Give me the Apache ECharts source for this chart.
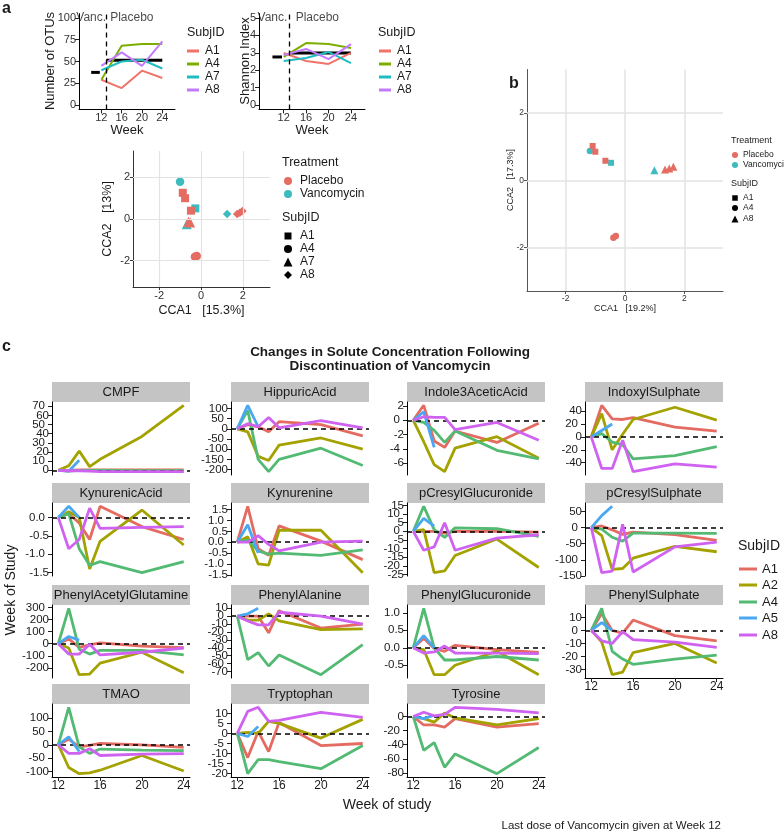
<!DOCTYPE html>
<html>
<head>
<meta charset="utf-8">
<script src="https://cdn.jsdelivr.net/npm/echarts@6/dist/echarts.min.js"></script>
<style>html,body{margin:0;padding:0;background:#fff;}#chart{width:784px;height:833px;}</style>
</head>
<body>
<div id="chart"></div>
<script>
// ================= DATA =================
// ---- panel a : alpha diversity ----
const weeksA = [12, 16, 20, 24];
const subjA = ['A1', 'A4', 'A7', 'A8'];
const otuA1 = [29, 19.5, 39.5, 31];
const otuA4 = [29, 68, 70, 70];
const otuA7 = [40, 50, 52, 42];
const otuA8 = [45, 60.5, 45, 73];
const otuMeans = [37.5, 51.5];          // Vanc., Placebo
const shanA1 = [2.99, 2.53, 2.36, 2.99];
const shanA4 = [2.76, 3.56, 3.5, 3.28];
const shanA7 = [2.53, 2.7, 3.05, 2.41];
const shanA8 = [2.87, 3.22, 2.64, 3.5];
const shanMeans = [2.76, 2.99];
const vancSpan = [10, 11.7];
const placeboSpan = [13, 24];
const switchWeek = 13;
const phaseLabels = ['Vanc.', 'Placebo'];
const phaseLabelWeeks = [10, 18];
const otuTicks = [0, 25, 50, 75, 100];
const shanTicks = [0, 1, 2, 3, 4, 5];
const weekTicksA = [12, 16, 20, 24];

// ---- panel a : CCA ----
const ccaTicks = [-2, 0, 2];
const ccaA_placebo = [[-0.87,1.26,'A1'],[-0.76,1.0,'A1'],[-0.48,0.4,'A1'],[-0.6,-0.13,'A7'],[-0.52,-0.17,'A7'],
                      [-0.29,-1.81,'A4'],[-0.2,-1.78,'A4'],[1.73,0.24,'A8'],[1.86,0.3,'A8'],[1.98,0.38,'A8']];
const ccaA_vanc = [[-1.0,1.79,'A4'],[-0.27,0.51,'A1'],[-0.68,-0.25,'A7'],[1.25,0.24,'A8']];
// ---- panel b : CCA ----
const ccaB_placebo = [[-1.09,1.02,'A1'],[-1.0,0.85,'A1'],[-0.66,0.58,'A1'],[-0.39,-1.71,'A4'],[-0.31,-1.66,'A4'],
                      [1.35,0.32,'A8'],[1.49,0.35,'A8'],[1.63,0.4,'A8']];
const ccaB_vanc = [[-1.18,0.87,'A4'],[-0.47,0.52,'A1'],[0.99,0.3,'A8']];

// ---- panel c : solute changes (rows: A1, A2, A4, A5, A8) ----
const weeksC = [12, 13, 14, 15, 16, 20, 24];
const subjC = ['A1', 'A2', 'A4', 'A5', 'A8'];
const weekTicksC = [12, 16, 20, 24];
const solutes = ['CMPF','HippuricAcid','Indole3AceticAcid','IndoxylSulphate','KynurenicAcid','Kynurenine',
  'pCresylGlucuronide','pCresylSulphate','PhenylAcetylGlutamine','PhenylAlanine','PhenylGlucuronide',
  'PhenylSulphate','TMAO','Tryptophan','Tyrosine'];

const CMPF = [[0,0,0.5,0.5,0.5,0.5,0.5],[0,5,21,4,12,37,71],[0,-1,0,0,0,-0.5,-0.5],[0,-1,11],[0,-0.5,-0.5,-1,-1.5,-1.5,-1.5]];
const HippuricAcid = [[0,20,10,-15,35,20,-35],[0,-15,-135,-155,-80,-45,-100],[0,90,-150,-210,-150,-95,-180],[0,115,10],[0,25,10,55,5,40,5]];
const Indole3AceticAcid = [[0,2.1,-2.9,-3.8,-1.5,-3.1,-0.4],[0,-3,-6.2,-7.2,-3.9,-2.3,-5.3],[0,-0.3,-1.4,-3.1,-1.5,-4.2,-5.4],[0,1.2,-3.8],[0,0.5,0.4,0.4,-1.3,-0.3,-2.8]];
const IndoxylSulphate = [[0,49,28,27,30,15,9],[0,36,-20,4,27,46,26],[0,5,-8,-12,-34,-29,-15],[0,10,20],[0,-49,-49,-5,-54,-42,-47]];
const KynurenicAcid = [[0,0.1,-0.15,-0.6,0.3,-0.25,-0.6],[0,0.15,0,-1.4,-0.65,0.2,-0.75],[0,0.1,-0.85,-1.3,-1.2,-1.5,-1.2],[0,0.3,0],[0,-0.85,-0.6,0.25,-0.3,-0.27,-0.25]];
const Kynurenine = [[0,1.65,-0.3,-0.6,0.75,0.05,-0.8],[0,0.25,-1.0,-1.05,0.55,0.55,-1.4],[0,0.1,-0.4,-0.55,-0.5,-0.6,-0.35],[0,0.8,-0.5],[0,0,0.3,-0.1,-0.4,0,0.05]];
const pCresylGlucuronide = [[0,0,0,-1,0,0,-0.5],[0,1,-24,-23,-14,-4.5,-21],[0,14.5,1,-3.5,2,1.5,-3],[0,7.5,3],[0,-11,-9,5,-11,-4,-2]];
const pCresylSulphate = [[0,5,-7,-21,-14,-22,-40],[0,-25,-130,-127,-95,-58,-75],[0,-5,-30,-42,-17,-17,-18],[0,37,66],[0,-140,-135,10,-138,-60,-45]];
const PhenylAcetylGlutamine = [[0,40,-30,-10,8,-20,-32],[0,-35,-255,-250,-160,-70,-240],[0,292,-45,-85,-55,-55,-92],[0,60,30],[0,-85,-85,-5,-92,-70,-35]];
const PhenylAlanine = [[0,0,0,-21,7,-15,-10],[0,-5,-5,3,-6,-17,-16],[0,-55,-46,-63,-49,-74,-36],[0,3,10],[0,-6,-11,-11,5,0,-10]];
const PhenylGlucuronide = [[0,0.27,-0.02,-0.1,0.07,-0.05,-0.13],[0,-0.05,-0.77,-0.77,-0.5,-0.1,-0.77],[0,1.13,0,-0.35,-0.35,-0.25,-0.35],[0,0.35,0],[0,-0.15,-0.12,0.05,-0.15,-0.15,-0.17]];
const PhenylSulphate = [[0,13,0,-2,8,-4,-8],[0,-9,-34,-32,-17,-10,-25],[0,17,-16,-22,-26,-22,-19],[0,6,0],[0,-8,-10,-1,-7,-9,-13]];
const TMAO = [[0,21,-8,-2,5,0,-10],[0,-85,-108,-105,-95,-40,-98],[0,140,-8,-32,-16,-20,-22],[0,30,-25],[0,-32,-32,-15,-40,-35,-33]];
const Tryptophan = [[0,-12,1,-9,5.5,-6,-5],[0,0.5,0,6,5,-2.3,7],[0,-20,-13,-13,-14,-17.5,-6],[0,-1.5,3.5],[0,11,13,6,6.5,10.5,8]];
const Tyrosine = [[0,-12,-12,-15,-3,-15,-10],[0,-3,-8,5,-2,-12,-3],[0,-48,-37,-72,-53,-81,-44],[0,-3,2],[0,6,1,3,13,10,5]];

const ticksCMPF = [0,10,20,30,40,50,60,70];
const ticksHippuric = [-200,-150,-100,-50,0,50,100];
const ticksIndole = [-6,-4,-2,0,2];
const ticksIndoxyl = [-40,-20,0,20,40];
const ticksKynurenic = [-1.5,-1,-0.5,0];
const ticksKynurenine = [-1.5,-1,-0.5,0,0.5,1,1.5];
const ticksPCG = [-25,-20,-15,-10,-5,0,5,10,15];
const ticksPCS = [-150,-100,-50,0,50];
const ticksPAG = [-200,-100,0,100,200,300];
const ticksPhe = [-70,-60,-50,-40,-30,-20,-10,0,10];
const ticksPG = [-0.5,0,0.5,1];
const ticksPS = [-30,-20,-10,0,10];
const ticksTMAO = [-100,-50,0,50,100];
const ticksTrp = [-20,-15,-10,-5,0,5,10];
const ticksTyr = [-80,-60,-40,-20,0];

// ================= BUILD =================
const facetValues = [CMPF,HippuricAcid,Indole3AceticAcid,IndoxylSulphate,KynurenicAcid,Kynurenine,pCresylGlucuronide,
  pCresylSulphate,PhenylAcetylGlutamine,PhenylAlanine,PhenylGlucuronide,PhenylSulphate,TMAO,Tryptophan,Tyrosine];
const facetTicks = [ticksCMPF,ticksHippuric,ticksIndole,ticksIndoxyl,ticksKynurenic,ticksKynurenine,ticksPCG,ticksPCS,
  ticksPAG,ticksPhe,ticksPG,ticksPS,ticksTMAO,ticksTrp,ticksTyr];

const FONT = "'Liberation Sans', Arial, Helvetica, sans-serif";
const colorsA = ['#F0736A', '#7CAE00', '#1FBCC0', '#C37BFD'];
const colorsC = ['#E46B61', '#A3A200', '#52BA72', '#4AA8F2', '#CF62F1'];
const colPlacebo = '#E46C63', colVanc = '#3DBBBF';

const grids = [], xAxes = [], yAxes = [], series = [], graphics = [];

function txt(x, y, text, size, o) {
  o = o || {};
  const el = {type:'text', x:x, y:y, silent:true, z:50,
    style:{text:text, font:(o.bold?'bold ':'') + size + 'px ' + FONT, fill:o.color || '#1a1a1a',
      textAlign:o.align || 'left', textVerticalAlign:o.valign || 'middle',
      align:o.align || 'left', verticalAlign:o.valign || 'middle'}};
  if (o.rot) el.rotation = o.rot;
  return el;
}
function shapeEl(kind, cx, cy, s, color) {
  const st = {fill:color};
  if (kind === 'rect') return {type:'rect', silent:true, shape:{x:cx-s/2, y:cy-s/2, width:s, height:s}, style:st};
  if (kind === 'circle') return {type:'circle', silent:true, shape:{cx:cx, cy:cy, r:s/2}, style:st};
  if (kind === 'triangle') return {type:'polygon', silent:true, shape:{points:[[cx,cy-s/2],[cx+s/2,cy+s/2],[cx-s/2,cy+s/2]]}, style:st};
  return {type:'polygon', silent:true, shape:{points:[[cx,cy-s/2],[cx+s/2,cy],[cx,cy+s/2],[cx-s/2,cy]]}, style:st};
}
function lineLegend(titleX, titleY, keyX0, keyX1, textX, ys, names, colors, tSize, iSize, lw) {
  graphics.push(txt(titleX, titleY, 'SubjID', tSize));
  names.forEach((n, i) => {
    graphics.push({type:'line', silent:true, shape:{x1:keyX0, y1:ys[i], x2:keyX1, y2:ys[i]}, style:{stroke:colors[i], lineWidth:lw}});
    graphics.push(txt(textX, ys[i], n, iSize));
  });
}
function addGrid(left, top, width, height) {
  grids.push({left:left, top:top, width:width, height:height, outerBoundsMode:'none', containLabel:false});
  return grids.length - 1;
}
function valueAxis(gi, min, max, ticks, o) {
  o = o || {};
  const show = o.show !== false;
  const ax = {type:'value', gridIndex:gi, min:min, max:max, scale:true,
    axisLine:{show:show && !o.labelsOnly, onZero:false, lineStyle:{color:o.lineColor || '#000', width:1}},
    axisTick:{show:show && !o.labelsOnly, customValues:ticks, length:o.tickLen || 4, lineStyle:{color:o.lineColor || '#222'}},
    axisLabel:{show:show, customValues:o.labelValues || ticks, interval:0, fontSize:o.fontSize || 11.5,
      color:o.labelColor || '#1a1a1a', margin:(o.margin || 3) + (o.labelsOnly ? (o.tickLen || 4) : 0),
      fontFamily:FONT, formatter:o.formatter, showMinLabel:true, showMaxLabel:true, hideOverlap:false},
    splitLine:{show:false}};
  if (o.position) { ax.position = o.position; ax.offset = 0; }
  return ax;
}

// ---------- panel a : OTU ----------
{
  const gi = addGrid(79, 13.6, 96, 95.8);
  xAxes.push(valueAxis(gi, 7.6, 26.5, weekTicksA, {fontSize:11, labelColor:'#333'}));
  yAxes.push(valueAxis(gi, -5, 105, otuTicks, {fontSize:11, labelColor:'#333'}));
  series.push({type:'line', xAxisIndex:xAxes.length-1, yAxisIndex:yAxes.length-1, showSymbol:false, silent:true,
    data:[[vancSpan[0], otuMeans[0]], [vancSpan[1], otuMeans[0]]], lineStyle:{color:'#000', width:3}, z:2});
  series.push({type:'line', xAxisIndex:xAxes.length-1, yAxisIndex:yAxes.length-1, showSymbol:false, silent:true,
    data:[[placeboSpan[0], otuMeans[1]], [placeboSpan[1], otuMeans[1]]], lineStyle:{color:'#000', width:3}, z:2});
  [otuA1, otuA4, otuA7, otuA8].forEach((v, k) => {
    series.push({type:'line', name:subjA[k], xAxisIndex:xAxes.length-1, yAxisIndex:yAxes.length-1, showSymbol:false, silent:true,
      data:weeksA.map((w, i) => [w, v[i]]), lineStyle:{color:colorsA[k], width:2}, z:3});
  });
  series.push({type:'scatter', xAxisIndex:xAxes.length-1, yAxisIndex:yAxes.length-1, silent:true, symbolSize:1,
    itemStyle:{color:'transparent'}, z:5,
    data:phaseLabels.map((t, i) => [phaseLabelWeeks[i], otuTicks[otuTicks.length-1], t]),
    label:{show:true, position:'inside', formatter:p => p.data[2], fontSize:12, color:'#1a1a1a', fontFamily:FONT},
    markLine:{silent:true, symbol:['none','none'], label:{show:false}, animation:false,
      lineStyle:{color:'#000', type:[5,4], width:1.3}, data:[{xAxis:switchWeek}]}});
}
// ---------- panel a : Shannon ----------
{
  const gi = addGrid(259, 13.6, 106, 95.8);
  xAxes.push(valueAxis(gi, 7.6, 26.5, weekTicksA, {fontSize:11, labelColor:'#333'}));
  yAxes.push(valueAxis(gi, -0.25, 5.25, shanTicks, {fontSize:11, labelColor:'#333'}));
  series.push({type:'line', xAxisIndex:xAxes.length-1, yAxisIndex:yAxes.length-1, showSymbol:false, silent:true,
    data:[[vancSpan[0], shanMeans[0]], [vancSpan[1], shanMeans[0]]], lineStyle:{color:'#000', width:3}, z:2});
  series.push({type:'line', xAxisIndex:xAxes.length-1, yAxisIndex:yAxes.length-1, showSymbol:false, silent:true,
    data:[[placeboSpan[0], shanMeans[1]], [placeboSpan[1], shanMeans[1]]], lineStyle:{color:'#000', width:3}, z:2});
  [shanA1, shanA4, shanA7, shanA8].forEach((v, k) => {
    series.push({type:'line', name:subjA[k], xAxisIndex:xAxes.length-1, yAxisIndex:yAxes.length-1, showSymbol:false, silent:true,
      data:weeksA.map((w, i) => [w, v[i]]), lineStyle:{color:colorsA[k], width:2}, z:3});
  });
  series.push({type:'scatter', xAxisIndex:xAxes.length-1, yAxisIndex:yAxes.length-1, silent:true, symbolSize:1,
    itemStyle:{color:'transparent'}, z:5,
    data:phaseLabels.map((t, i) => [phaseLabelWeeks[i], shanTicks[shanTicks.length-1], t]),
    label:{show:true, position:'inside', formatter:p => p.data[2], fontSize:12, color:'#1a1a1a', fontFamily:FONT},
    markLine:{silent:true, symbol:['none','none'], label:{show:false}, animation:false,
      lineStyle:{color:'#000', type:[5,4], width:1.3}, data:[{xAxis:switchWeek}]}});
}

// ---------- CCA scatter helper ----------
function ccaPanel(left, top, width, height, xr, yr, vanc, placebo, shapes, sizes, o) {
  const gi = addGrid(left, top, width, height);
  xAxes.push(valueAxis(gi, xr[0], xr[1], ccaTicks, {fontSize:o.fs, labelColor:'#333', lineColor:o.lc, tickLen:3}));
  yAxes.push(valueAxis(gi, yr[0], yr[1], ccaTicks, {fontSize:o.fs, labelColor:'#333', lineColor:o.lc, tickLen:3}));
  const xi = xAxes.length-1, yi = yAxes.length-1;
  const gl = ccaTicks.map(t => ({xAxis:t})).concat(ccaTicks.map(t => ({yAxis:t})));
  series.push({type:'scatter', xAxisIndex:xi, yAxisIndex:yi, data:[], silent:true, z:1,
    markLine:{silent:true, symbol:['none','none'], label:{show:false}, animation:false,
      lineStyle:{color:'#E3E3E3', type:'solid', width:o.gw}, data:gl}});
  [[vanc, colVanc], [placebo, colPlacebo]].forEach(([d, c]) => {
    series.push({type:'scatter', xAxisIndex:xi, yAxisIndex:yi, data:d, silent:true, z:3,
      symbol:v => shapes[v[2]], symbolSize:v => sizes[v[2]], itemStyle:{color:c, opacity:1}});
  });
}
ccaPanel(133, 151, 137, 136, [-3.25, 3.3], [-3.27, 3.27], ccaA_vanc, ccaA_placebo,
  {A1:'rect', A4:'circle', A7:'triangle', A8:'diamond'}, {A1:8, A4:8.5, A7:10, A8:8.5}, {fs:11, lc:'#333', gw:1.2});
ccaPanel(527, 69.5, 196, 221.5, [-3.3, 3.3], [-3.3, 3.3], ccaB_vanc, ccaB_placebo,
  {A1:'rect', A4:'circle', A8:'triangle'}, {A1:6, A4:6.5, A8:8}, {fs:8.5, lc:'#555', gw:1.5});

// ---------- panel c : facets ----------
const colLeft = [52, 231, 407, 585], rowTop = [402, 503, 605, 704], PW = 138, PH = 73, STRIP = 20;
facetValues.forEach((vals, i) => {
  const r = Math.floor(i / 4), c = i % 4;
  const gi = addGrid(colLeft[c], rowTop[r], PW, PH);
  const all = [].concat.apply([0], vals);
  const lo = Math.min.apply(null, all), hi = Math.max.apply(null, all), pad = (hi - lo) * 0.05;
  const ticks = facetTicks[i];
  const dec = ticks.some(t => Math.round(t) !== t) ? 1 : 0;
  const fmt = v => Number(v).toFixed(dec);
  const showX = i + 4 >= facetValues.length;
  xAxes.push(valueAxis(gi, 11.4, 24.6, weekTicksC, {show:showX, fontSize:12}));
  // labels split across two left axes so that every tick label is drawn (crowded, like the original)
  yAxes.push(valueAxis(gi, lo - pad, hi + pad, ticks, {fontSize:11.5, formatter:fmt, position:'left',
    labelValues:ticks.filter((t, j) => j % 2 === 0)}));
  const yi = yAxes.length-1;
  yAxes.push(valueAxis(gi, lo - pad, hi + pad, ticks, {fontSize:11.5, formatter:fmt, position:'left', labelsOnly:true,
    labelValues:ticks.filter((t, j) => j % 2 === 1)}));
  const xi = xAxes.length-1;
  vals.forEach((v, k) => {
    const s = {type:'line', name:subjC[k], xAxisIndex:xi, yAxisIndex:yi, showSymbol:false, silent:true, z:2+k,
      data:v.map((y, j) => [weeksC[j], y]), lineStyle:{color:colorsC[k], width:2.8}, itemStyle:{color:colorsC[k]}};
    if (k === vals.length - 1) {
      s.markLine = {silent:true, symbol:['none','none'], label:{show:false}, animation:false,
        lineStyle:{color:'#000', type:[5,4], width:1.5}, data:[{yAxis:0}]};
    }
    series.push(s);
  });
  graphics.push({type:'rect', silent:true, shape:{x:colLeft[c], y:rowTop[r]-STRIP, width:PW, height:STRIP}, style:{fill:'#C4C4C4'}});
  graphics.push(txt(colLeft[c] + PW/2, rowTop[r] - STRIP/2, solutes[i], 13, {align:'center'}));
});

// ---------- texts ----------
graphics.push(txt(2, 9, 'a', 16, {bold:true}));
graphics.push(txt(509, 84, 'b', 16, {bold:true}));
graphics.push(txt(2, 347, 'c', 16, {bold:true}));
graphics.push(txt(50, 61, 'Number of OTUs', 13, {align:'center', rot:Math.PI/2}));
graphics.push(txt(245, 61, 'Shannon Index', 13, {align:'center', rot:Math.PI/2}));
graphics.push(txt(127, 130, 'Week', 13, {align:'center'}));
graphics.push(txt(312, 130, 'Week', 13, {align:'center'}));
lineLegend(187, 33, 187, 199, 205, [51, 64, 77, 90], subjA, colorsA, 12.5, 12, 3);
lineLegend(378, 33, 379, 391, 397, [51, 64, 77, 90], subjA, colorsA, 12.5, 12, 3);

// CCA a titles / legend
graphics.push(txt(201.5, 311, 'CCA1   [15.3%]', 12.5, {align:'center'}));
graphics.push(txt(108, 219, 'CCA2   [13%]', 12.5, {align:'center', rot:Math.PI/2}));
graphics.push(txt(282, 163, 'Treatment', 12.5));
graphics.push(shapeEl('circle', 288, 181, 8, colPlacebo)); graphics.push(txt(300, 181, 'Placebo', 12));
graphics.push(shapeEl('circle', 288, 194, 8, colVanc)); graphics.push(txt(300, 194, 'Vancomycin', 12));
graphics.push(txt(282, 218, 'SubjID', 12.5));
[['rect',236,'A1',7],['circle',249,'A4',8],['triangle',262,'A7',9],['diamond',275,'A8',8]].forEach(([k,y,n,s]) => {
  graphics.push(shapeEl(k, 288, y, s, '#000')); graphics.push(txt(300, y, n, 12));
});
// CCA b titles / legend
graphics.push(txt(625, 309, 'CCA1   [19.2%]', 9, {align:'center'}));
graphics.push(txt(511, 180, 'CCA2   [17.3%]', 9, {align:'center', rot:Math.PI/2}));
graphics.push(txt(731, 141, 'Treatment', 9));
graphics.push(shapeEl('circle', 735, 155, 6, colPlacebo)); graphics.push(txt(743, 155, 'Placebo', 8.5));
graphics.push(shapeEl('circle', 735, 165, 6, colVanc)); graphics.push(txt(743, 165, 'Vancomycin', 8.5));
graphics.push(txt(731, 184, 'SubjID', 9));
[['rect',198,'A1',5.5],['circle',208,'A4',6],['triangle',219,'A8',7]].forEach(([k,y,n,s]) => {
  graphics.push(shapeEl(k, 735, y, s, '#000')); graphics.push(txt(743, y, n, 8.5));
});
// panel c texts
graphics.push(txt(390, 352, 'Changes in Solute Concentration Following', 13.5, {bold:true, align:'center'}));
graphics.push(txt(390, 366, 'Discontinuation of Vancomycin', 13.5, {bold:true, align:'center'}));
graphics.push(txt(11, 590, 'Week of Study', 14, {align:'center', rot:Math.PI/2}));
graphics.push(txt(387, 805, 'Week of study', 14, {align:'center'}));
graphics.push(txt(721, 826, 'Last dose of Vancomycin given at Week 12', 11.5, {align:'right'}));
graphics.push(txt(738, 546, 'SubjID', 14));
[569, 585, 602, 618, 635].forEach((y, k) => {
  graphics.push({type:'line', silent:true, shape:{x1:739, y1:y, x2:757, y2:y}, style:{stroke:colorsC[k], lineWidth:3}});
  graphics.push(txt(762, y, subjC[k], 13));
});

const chart = echarts.init(document.getElementById('chart'), null, {renderer:'canvas'});
chart.setOption({
  animation:false,
  backgroundColor:'#ffffff',
  grid:grids, xAxis:xAxes, yAxis:yAxes, series:series,
  graphic:{elements:graphics}
});
</script>
</body>
</html>
